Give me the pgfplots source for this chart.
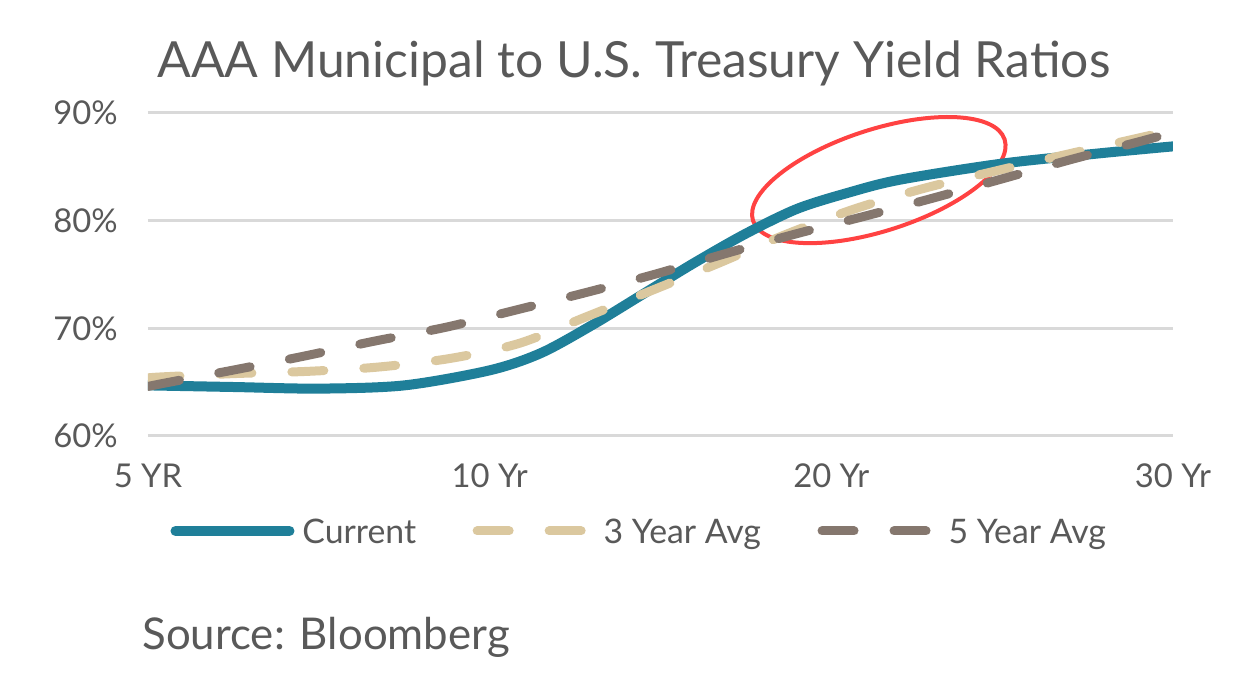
\documentclass[border=0pt]{standalone}
\usepackage{fontspec}
\setmainfont{Lato}
\usepackage{pgfplots}
\pgfplotsset{compat=1.18}
\usetikzlibrary{shapes.geometric}
\definecolor{txt}{HTML}{595959}
\definecolor{cur}{HTML}{1F7F99}
\definecolor{tanc}{HTML}{DBC89F}
\definecolor{taupe}{HTML}{85776E}
\definecolor{gridc}{HTML}{D9D9D9}
\definecolor{ellc}{HTML}{FF4242}
\begin{document}
\begin{tikzpicture}
\useasboundingbox (-74pt,-121.5pt) rectangle (551pt,218pt);
\begin{axis}[
  at={(0pt,0pt)}, anchor=south west,
  scale only axis, width=512.5pt, height=161.5pt,
  xmin=0, xmax=3, ymin=60, ymax=90,
  axis line style={draw=none},
  major tick length=0pt,
  ymajorgrids, grid style={line width=1.5pt, gridc},
  xtick={0,1,2,3}, xticklabels={5 YR,10 Yr,20 Yr,30 Yr},
  ytick={60,70,80,90}, yticklabels={60\%,70\%,80\%,90\%},
  ticklabel style={font=\fontsize{16.4}{19}\selectfont, text=txt, inner sep=0pt},
  xticklabel style={anchor=base, yshift=-26pt},
  yticklabel style={anchor=base east, xshift=-15pt, yshift=-5.9pt},
  legend columns=3,
  legend style={at={(rel axis cs:0,0)}, anchor=west, xshift=11.25pt, yshift=-48.5pt,
    draw=none, fill=none, inner sep=0pt, outer sep=0pt,
    font=\fontsize{16.9}{19}\selectfont, text=txt,
    nodes={inner sep=0pt},
    /tikz/every odd column/.append style={column sep=4pt},
    /tikz/every even column/.append style={column sep=28.25pt}},
  legend image code/.code={\draw[#1] (0pt,1pt) -- (57pt,1pt);},
]
\node[draw=ellc, line width=2pt, ellipse, inner sep=0pt, minimum width=132.2pt, minimum height=50.7pt, rotate=17.9] at (axis cs:2.139,83.77) {};
\addplot[cur, line width=5pt, smooth, line cap=round] coordinates {
(0.00,64.7) (0.25,64.55) (0.50,64.4) (0.75,64.7) (1.00,66.1) (1.15,67.7)
(1.30,70.3) (1.45,73.2) (1.60,76.1) (1.75,78.8) (1.90,81.1) (2.05,82.6)
(2.20,83.8) (2.50,85.3) (2.80,86.3) (3.00,86.9)};
\addlegendentry{Current}
\addplot[tanc, line width=4.5pt, smooth, line cap=round, dash pattern=on 16pt off 20pt] coordinates {
(0.000,65.4) (0.047,65.5) (0.255,65.8) (0.465,66.0) (0.673,66.4) (0.884,67.2)
(1.086,68.6) (1.285,71.1) (1.481,73.6) (1.674,76.1) (1.873,78.8) (2.069,81.1)
(2.271,83.0) (2.479,84.6) (2.681,86.1) (2.889,87.6) (3.000,88.4)};
\addlegendentry{3 Year Avg}
\addplot[taupe, line width=4.5pt, smooth, line cap=round, dash pattern=on 16pt off 20pt] coordinates {
(0.000,64.6) (0.047,64.9) (0.246,66.1) (0.454,67.4) (0.661,68.8) (0.872,70.1)
(1.077,71.7) (1.279,73.3) (1.481,75.0) (1.686,76.9) (1.888,78.7) (2.096,80.4)
(2.298,82.1) (2.502,83.9) (2.704,85.7) (2.909,87.4) (3.000,88.2)};
\addlegendentry{5 Year Avg}
\end{axis}
\node[anchor=base west, inner sep=0pt, text=txt, font=\fontsize{24.9}{29}\selectfont] at (4.5pt,179pt) {AAA Municipal to U.S. Treasury Yield Ratios};
\node[anchor=base west, inner sep=0pt, text=txt, font=\fontsize{21.9}{25}\selectfont] at (-3pt,-107pt) {Source: Bloomberg};
\end{tikzpicture}
\end{document}
